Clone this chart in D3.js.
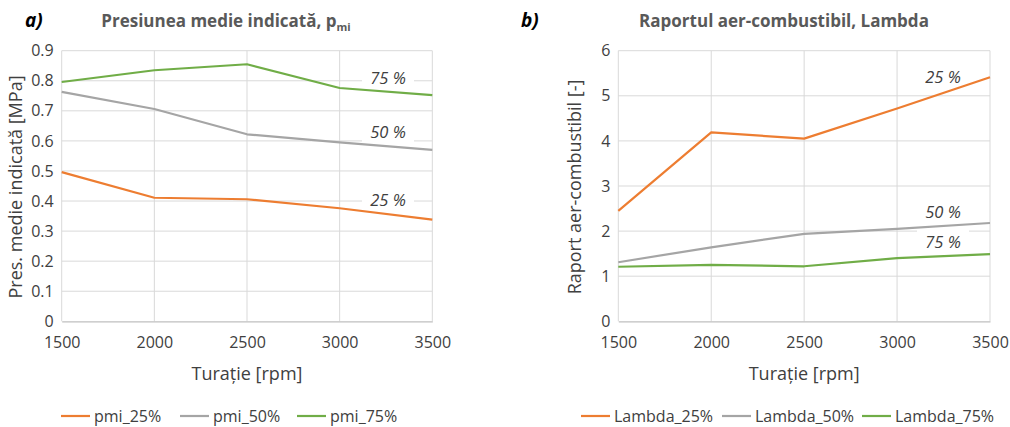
<!DOCTYPE html>
<html lang="ro">
<head>
<meta charset="utf-8">
<title>pmi si Lambda</title>
<script src="https://cdn.jsdelivr.net/npm/d3@7"></script>
<style>
 body { margin: 0; background: #fff; }
 svg text { font-family: "Open Sans", sans-serif; }
</style>
</head>
<body>
<script>
// turatie [rpm]
const rpm = [1500, 2000, 2500, 3000, 3500];

// presiunea medie indicata [MPa]
const pmi25 = [0.496, 0.411, 0.406, 0.376, 0.338];
const pmi50 = [0.763, 0.706, 0.622, 0.595, 0.570];
const pmi75 = [0.796, 0.835, 0.855, 0.776, 0.752];

// raport aer-combustibil
const lambda25 = [2.45, 4.19, 4.05, 4.72, 5.41];
const lambda50 = [1.31, 1.64, 1.94, 2.05, 2.18];
const lambda75 = [1.21, 1.25, 1.22, 1.40, 1.49];

const pmiTicks = [0, 0.1, 0.2, 0.3, 0.4, 0.5, 0.6, 0.7, 0.8, 0.9];
const lambdaTicks = [0, 1, 2, 3, 4, 5, 6];

const colors = ['#ED7D31', '#A5A5A5', '#70AD47'];

const W = 1010, H = 427;
const svg = d3.select('body').append('svg')
    .attr('width', W).attr('height', H);

function chart(o) {
    const x = d3.scaleLinear().domain([1500, 3500]).range([o.x0, o.x1]);
    const y = d3.scaleLinear().domain([0, o.ymax]).range([321.3, 50.7]);
    const g = svg.append('g');

    // grid
    g.selectAll('.hg').data(o.ticks.slice(1)).enter().append('line')
        .attr('x1', o.x0).attr('x2', o.x1)
        .attr('y1', d => y(d)).attr('y2', d => y(d))
        .attr('stroke', '#d9d9d9').attr('stroke-width', 1);
    g.selectAll('.vg').data(rpm).enter().append('line')
        .attr('x1', d => x(d)).attr('x2', d => x(d))
        .attr('y1', y(0)).attr('y2', y(o.ymax))
        .attr('stroke', '#d9d9d9').attr('stroke-width', 1);

    // white boxes behind the inline labels (grid cut, lines stay on top)
    o.labels.forEach(l => {
        g.append('rect')
            .attr('x', l.x - 26).attr('y', l.y - 12)
            .attr('width', 52).attr('height', 22)
            .attr('fill', '#fff');
    });

    // axes
    const ya = g.append('g').attr('transform', 'translate(' + o.x0 + ',0)')
        .call(d3.axisLeft(y).tickValues(o.ticks).tickSize(0).tickPadding(8)
              .tickFormat(d => d === 0 ? '0' : String(d)));
    ya.select('.domain').remove();
    const xa = g.append('g').attr('transform', 'translate(0,' + y(0) + ')')
        .call(d3.axisBottom(x).tickValues(rpm).tickSize(0).tickPadding(15)
              .tickFormat(d3.format('d')));
    xa.select('.domain').attr('stroke', '#bfbfbf').attr('stroke-width', 1.3);
    svg.selectAll('.tick text').attr('fill', '#404040').style('font-size', '16px');

    // lines
    const line = d3.line().x((d, i) => x(rpm[i])).y(d => y(d));
    o.series.forEach((s, k) => {
        g.append('path').datum(s)
            .attr('d', line)
            .attr('fill', 'none')
            .attr('stroke', colors[k])
            .attr('stroke-width', 2.2)
            .attr('stroke-linejoin', 'round');
    });

    // inline labels
    o.labels.forEach(l => {
        g.append('text')
            .attr('x', l.x).attr('y', l.y + 6)
            .attr('text-anchor', 'middle')
            .style('font-size', '16.5px').style('font-style', 'italic')
            .attr('fill', '#404040')
            .text(l.t);
    });

    // titles
    svg.append('text')
        .attr('x', o.tagX).attr('y', 27)
        .style('font-size', '19px').style('font-weight', 'bold').style('font-style', 'italic')
        .attr('fill', '#000').text(o.tag);
    const t = svg.append('text')
        .attr('x', o.titleX).attr('y', 27)
        .attr('text-anchor', 'middle')
        .style('font-size', '17px').style('font-weight', 'bold')
        .attr('fill', '#595959');
    t.append('tspan').text(o.title);
    if (o.sub) {
        t.append('tspan').text(o.sub[0]);
        t.append('tspan').attr('dy', 4).style('font-size', '11px').text(o.sub[1]);
    }

    svg.append('text')
        .attr('transform', 'translate(' + o.yTitleX + ',187) rotate(-90)')
        .attr('text-anchor', 'middle')
        .style('font-size', '18px').attr('fill', '#404040')
        .text(o.yTitle);
    svg.append('text')
        .attr('x', (o.x0 + o.x1) / 2).attr('y', 380)
        .attr('text-anchor', 'middle')
        .style('font-size', '18px').attr('fill', '#404040')
        .text('Turație [rpm]');

    // legend
    o.legend.forEach((name, k) => {
        const lx = o.legX[k];
        svg.append('line')
            .attr('x1', lx).attr('x2', lx + 29)
            .attr('y1', 416).attr('y2', 416)
            .attr('stroke', colors[k]).attr('stroke-width', 2.2);
        svg.append('text')
            .attr('x', lx + 33).attr('y', 422)
            .style('font-size', '16px').attr('fill', '#404040')
            .text(name);
    });
}

chart({
    x0: 61.7, x1: 432.3, ymax: 0.9, ticks: pmiTicks,
    series: [pmi25, pmi50, pmi75],
    labels: [{x: 388, y: 78, t: '75 %'}, {x: 388, y: 132, t: '50 %'}, {x: 388, y: 200, t: '25 %'}],
    tag: 'a)', tagX: 25, title: 'Presiunea medie indicată, ', sub: ['p', 'mi'], titleX: 226,
    yTitle: 'Pres. medie indicată [MPa]', yTitleX: 22,
    legend: ['pmi_25%', 'pmi_50%', 'pmi_75%'], legX: [61, 180, 297]
});

chart({
    x0: 618.3, x1: 990, ymax: 6, ticks: lambdaTicks,
    series: [lambda25, lambda50, lambda75],
    labels: [{x: 943, y: 77, t: '25 %'}, {x: 943, y: 212, t: '50 %'}, {x: 943, y: 242, t: '75 %'}],
    tag: 'b)', tagX: 521, title: 'Raportul aer-combustibil, Lambda', sub: null, titleX: 784,
    yTitle: 'Raport aer-combustibil [-]', yTitleX: 581,
    legend: ['Lambda_25%', 'Lambda_50%', 'Lambda_75%'], legX: [581, 722, 862]
});
</script>
</body>
</html>
